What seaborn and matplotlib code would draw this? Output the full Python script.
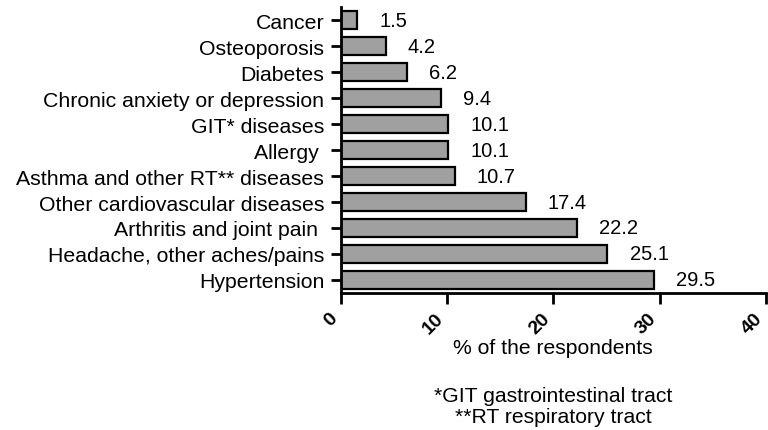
import matplotlib
matplotlib.use("Agg")
import matplotlib.pyplot as plt
import seaborn as sns
import pandas as pd

# Chart data
conditions = [
    "Cancer",
    "Osteoporosis",
    "Diabetes",
    "Chronic anxiety or depression",
    "GIT* diseases",
    "Allergy ",
    "Asthma and other RT** diseases",
    "Other cardiovascular diseases",
    "Arthritis and joint pain ",
    "Headache, other aches/pains",
    "Hypertension",
]
percent = [1.5, 4.2, 6.2, 9.4, 10.1, 10.1, 10.7, 17.4, 22.2, 25.1, 29.5]
x_ticks = [0, 10, 20, 30, 40]
footnotes = ["*GIT gastrointestinal tract", "**RT respiratory tract"]

df = pd.DataFrame({"condition": conditions, "pct": percent})

sns.set_style("ticks", {"axes.edgecolor": "black", "text.color": "black",
                        "xtick.color": "black", "ytick.color": "black",
                        "axes.labelcolor": "black"})
plt.rcParams["font.family"] = ["Liberation Sans", "DejaVu Sans"]

fig = plt.figure(figsize=(7.68, 4.31), dpi=100)
ax = fig.add_axes([0.444, 0.318, 0.553, 0.663])

sns.barplot(data=df, x="pct", y="condition", orient="h", color="#a0a0a0",
            saturation=1, edgecolor="black", linewidth=1.6, width=0.7, ax=ax)

# value labels to the right of each bar
ax.bar_label(ax.containers[0], fmt="%.1f", padding=16, fontsize=14.5, color="black")

ax.set_xlim(0, 40)
ax.set_xticks(x_ticks)
ax.set_xticklabels([str(t) for t in x_ticks], rotation=45, ha="right",
                   va="top", fontweight="bold", fontsize=14)
ax.set_xlabel("% of the respondents", fontsize=15.2, labelpad=1)
ax.set_ylabel("")
ax.tick_params(axis="y", labelsize=15.3, length=7, width=2, pad=5)
ax.tick_params(axis="x", length=8, width=2, pad=4)
for s in ["left", "bottom"]:
    ax.spines[s].set_linewidth(2)
sns.despine(ax=ax)

# footnotes under the axis label
fig.text(0.7205, 1 - 397 / 431, footnotes[0], ha="center", va="center", fontsize=15.2)
fig.text(0.7205, 1 - 418 / 431, footnotes[1], ha="center", va="center", fontsize=15.2)

fig.savefig("out.png", dpi=100)
